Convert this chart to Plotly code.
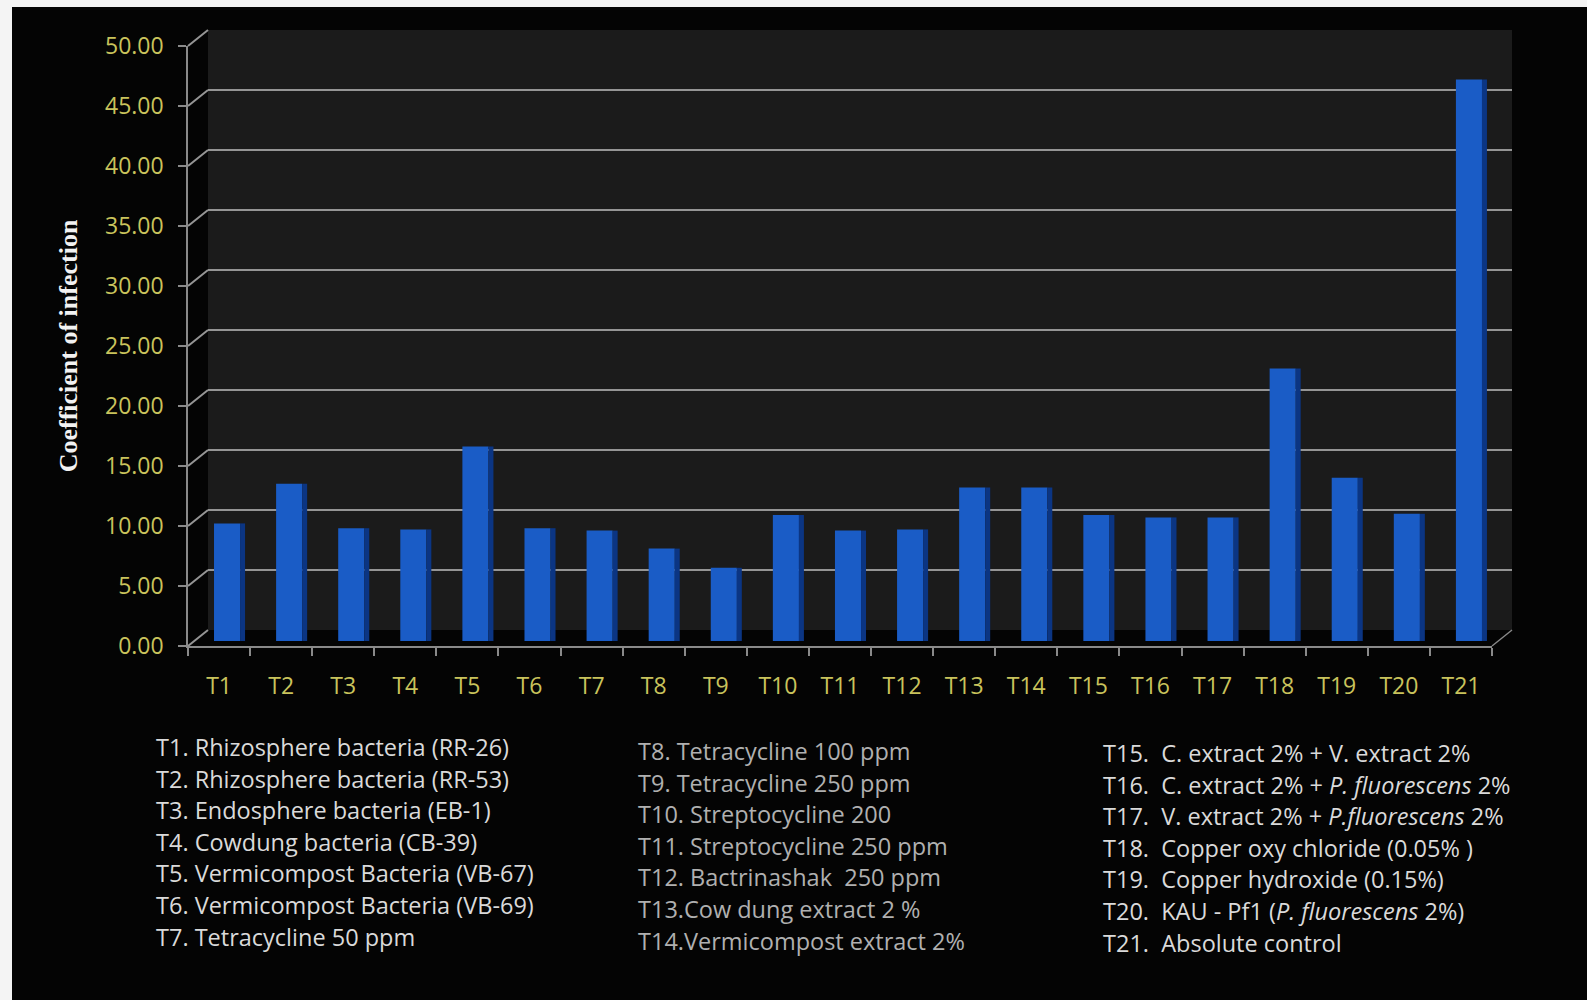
import plotly.graph_objects as go

# ---------------- data ----------------
categories = ["T1", "T2", "T3", "T4", "T5", "T6", "T7", "T8", "T9", "T10", "T11",
              "T12", "T13", "T14", "T15", "T16", "T17", "T18", "T19", "T20", "T21"]
coefficient = [9.8, 13.1, 9.4, 9.3, 16.2, 9.4, 9.2, 7.7, 6.1, 10.5, 9.2,
               9.3, 12.8, 12.8, 10.5, 10.3, 10.3, 22.7, 13.6, 10.6, 46.8]
y_ticks = [0, 5, 10, 15, 20, 25, 30, 35, 40, 45, 50]

legend_col1 = ["T1. Rhizosphere bacteria (RR-26)",
               "T2. Rhizosphere bacteria (RR-53)",
               "T3. Endosphere bacteria (EB-1)",
               "T4. Cowdung bacteria (CB-39)",
               "T5. Vermicompost Bacteria (VB-67)",
               "T6. Vermicompost Bacteria (VB-69)",
               "T7. Tetracycline 50 ppm"]
legend_col2 = ["T8. Tetracycline 100 ppm",
               "T9. Tetracycline 250 ppm",
               "T10. Streptocycline 200",
               "T11. Streptocycline 250 ppm",
               "T12. Bactrinashak&nbsp; 250 ppm",
               "T13.Cow dung extract 2 %",
               "T14.Vermicompost extract 2%"]
legend_col3 = ["T15.&nbsp; C. extract 2% + V. extract 2%",
               "T16.&nbsp; C. extract 2% + <i>P. fluorescens</i> 2%",
               "T17.&nbsp; V. extract 2% + <i>P.fluorescens</i> 2%",
               "T18.&nbsp; Copper oxy chloride (0.05% )",
               "T19.&nbsp; Copper hydroxide (0.15%)",
               "T20.&nbsp; KAU - Pf1 (<i>P. fluorescens</i> 2%)",
               "T21.&nbsp; Absolute control"]

# ---------------- geometry (pixels in a 1587x1000 page) ----------------
W, H = 1587, 1000
front_x = (188, 1492); front_y = (646, 46)     # (y of 0, y of 50)
bars_dx, bars_dy = 8, -5
back_dx, back_dy = 20, -16


def xdom(px0, px1):
    return [px0 / W, px1 / W]


def ydom(py0, py1):  # py0 = bottom pixel, py1 = top pixel
    return [1 - py0 / H, 1 - py1 / H]


tick_color = "#c9c35c"
grid_color = "#959595"
axis_color = "#8a8a8a"
text_font = "Open Sans"

fig = go.Figure()

# back wall (gridlines) on x/y
fig.add_trace(go.Scatter(x=categories, y=[None] * len(categories), xaxis="x", yaxis="y",
                         mode="markers", showlegend=False, hoverinfo="skip"))
# bars on x2/y2 : front face + darker side face
fig.add_trace(go.Bar(x=categories, y=coefficient, xaxis="x2", yaxis="y2",
                     width=0.42, offset=-0.21, marker=dict(color="#1a5cc6", line=dict(width=0)),
                     showlegend=False))
fig.add_trace(go.Bar(x=categories, y=coefficient, xaxis="x2", yaxis="y2",
                     width=0.08, offset=0.21, marker=dict(color="#0b3583", line=dict(width=0)),
                     showlegend=False))
# front axes on x3/y3
fig.add_trace(go.Scatter(x=categories, y=[None] * len(categories), xaxis="x3", yaxis="y3",
                         mode="markers", showlegend=False, hoverinfo="skip"))

cat_range = [-0.5, len(categories) - 0.5]

layout_axes = dict(
    xaxis=dict(domain=xdom(front_x[0] + back_dx, front_x[1] + back_dx), anchor="y",
               type="category", range=cat_range, showticklabels=False, showgrid=False,
               zeroline=False, showline=False, ticks=""),
    yaxis=dict(domain=ydom(front_y[0] + back_dy, front_y[1] + back_dy), anchor="x",
               range=[0, 50], tickvals=y_ticks, showticklabels=False, showgrid=True,
               gridcolor=grid_color, gridwidth=2, zeroline=False, showline=False, ticks=""),
    xaxis2=dict(domain=xdom(front_x[0] + bars_dx, front_x[1] + bars_dx), anchor="y2",
                type="category", range=cat_range, visible=False),
    yaxis2=dict(domain=ydom(front_y[0] + bars_dy, front_y[1] + bars_dy), anchor="x2",
                range=[0, 50], visible=False),
    xaxis3=dict(domain=xdom(*front_x), anchor="y3", type="category", range=cat_range,
                tickson="boundaries", ticks="outside", ticklen=8, tickcolor=axis_color,
                tickwidth=1.5, showline=True, linecolor=axis_color, linewidth=1.5,
                showgrid=False, zeroline=False,
                tickfont=dict(family=text_font, size=23, color=tick_color),
                ticklabelstandoff=19),
    yaxis3=dict(domain=ydom(*front_y), anchor="x3", range=[0, 50], tickvals=y_ticks,
                tickformat=".2f", ticks="outside", ticklen=8, tickcolor=axis_color,
                tickwidth=1.5, showline=True, linecolor=axis_color, linewidth=1.5,
                showgrid=False, zeroline=False,
                tickfont=dict(family=text_font, size=23, color=tick_color),
                ticklabelstandoff=10,
                title=dict(text="<b>Coefficient of infection</b>", standoff=20,
                           font=dict(family="Liberation Serif", size=26, color="#f2f2f2"))),
)

shapes = []
# white photo margin + black page
shapes.append(dict(type="rect", xref="paper", yref="paper", x0=12 / W, x1=1, y0=0, y1=1 - 7 / H,
                   fillcolor="#040404", line=dict(width=0), layer="below"))
# back wall panel
shapes.append(dict(type="rect", xref="x domain", yref="y domain", x0=0, x1=1, y0=0, y1=1,
                   fillcolor="#1b1b1b", line=dict(width=0), layer="below"))
# diagonal connectors from front y ticks to back wall
for v in y_ticks:
    py = front_y[0] - (front_y[0] - front_y[1]) * v / 50
    shapes.append(dict(type="line", xref="paper", yref="paper",
                       x0=front_x[0] / W, y0=1 - py / H,
                       x1=(front_x[0] + back_dx) / W, y1=1 - (py + back_dy) / H,
                       line=dict(color=grid_color, width=2), layer="below"))
# right floor edge
shapes.append(dict(type="line", xref="paper", yref="paper",
                   x0=front_x[1] / W, y0=1 - front_y[0] / H,
                   x1=(front_x[1] + back_dx) / W, y1=1 - (front_y[0] + back_dy) / H,
                   line=dict(color=axis_color, width=1.5), layer="below"))

annotations = []
cols = [(legend_col1, 154, 747, "#dadada"),
        (legend_col2, 636, 751, "#b0b0b0"),
        (legend_col3, 1101, 753, "#dadada")]
for items, px, py0, col in cols:
    for i, txt in enumerate(items):
        annotations.append(dict(text=txt, xref="paper", yref="paper",
                                x=px / W, y=1 - (py0 + i * 31.6) / H,
                                xanchor="left", yanchor="middle", showarrow=False,
                                font=dict(family=text_font, size=23.5, color=col)))

fig.update_layout(
    width=W, height=H, margin=dict(l=0, r=0, t=0, b=0, pad=0, autoexpand=False),
    paper_bgcolor="#f4f4f4", plot_bgcolor="rgba(0,0,0,0)",
    barmode="overlay", showlegend=False,
    shapes=shapes, annotations=annotations,
    **layout_axes,
)

fig.write_html("out.html")
